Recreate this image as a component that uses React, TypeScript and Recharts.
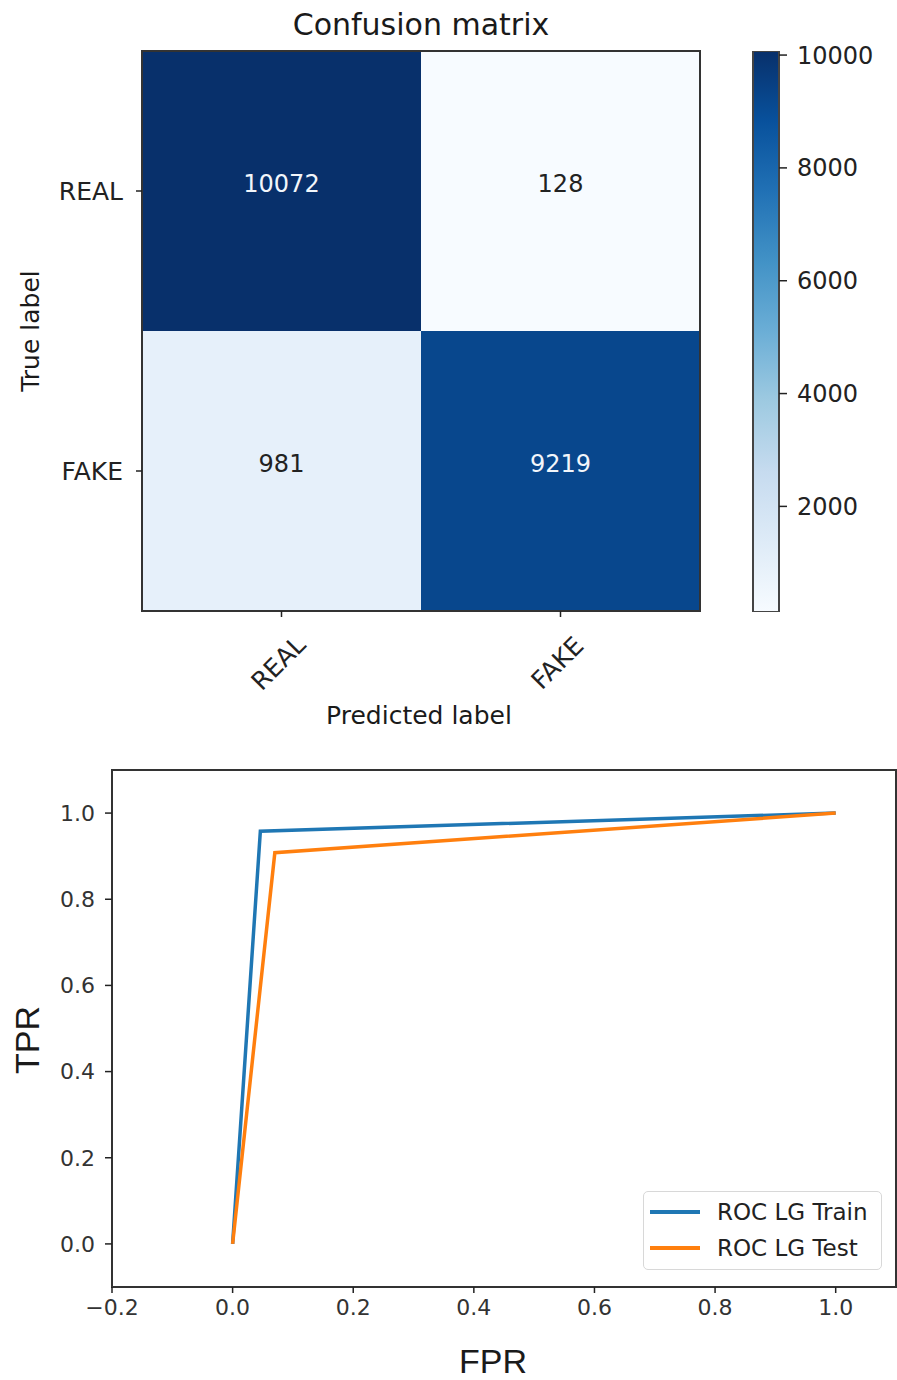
import React from 'react';
import {
  ScatterChart, Scatter, XAxis, YAxis, ReferenceArea, BarChart, Bar,
  LineChart, Line, Legend,
} from 'recharts';

// --- Confusion matrix data ---
const classLabels = ['REAL', 'FAKE'];
const matrixCounts = [
  [10072, 128],
  [981, 9219],
];
const colorbarTicks = [2000, 4000, 6000, 8000, 10000];

// --- ROC curve data ---
const seriesNames = ['ROC LG Train', 'ROC LG Test'];
const rocTrain = [
  { fpr: 0, tpr: 0 },
  { fpr: 0.046, tpr: 0.958 },
  { fpr: 1, tpr: 1 },
];
const rocTest = [
  { fpr: 0, tpr: 0 },
  { fpr: 0.07, tpr: 0.908 },
  { fpr: 1, tpr: 1 },
];
const fprTicks = [-0.2, 0, 0.2, 0.4, 0.6, 0.8, 1.0];
const tprTicks = [0, 0.2, 0.4, 0.6, 0.8, 1.0];

// matplotlib "Blues"
const BLUES = ['#f7fbff', '#deebf7', '#c6dbef', '#9ecae1', '#6baed6', '#4292c6', '#2171b5', '#08519c', '#08306b'];
const FONT = '"DejaVu Sans", sans-serif';
const INK = '#222';

const allCounts = matrixCounts.flat();
const vmin = Math.min(...allCounts);
const vmax = Math.max(...allCounts);

const hexToRgb = (h: string) => [1, 3, 5].map(i => parseInt(h.slice(i, i + 2), 16));

const bluesColor = (v: number) => {
  const t = Math.max(0, Math.min(1, (v - vmin) / (vmax - vmin))) * (BLUES.length - 1);
  const i = Math.min(Math.floor(t), BLUES.length - 2);
  const f = t - i;
  const a = hexToRgb(BLUES[i]);
  const b = hexToRgb(BLUES[i + 1]);
  const c = a.map((av, k) => Math.round(av + (b[k] - av) * f));
  return `rgb(${c[0]},${c[1]},${c[2]})`;
};

const cells = matrixCounts.flatMap((row, r) =>
  row.map((count, c) => ({ x: c, y: r, count }))
);

const colorbarData = [{ name: 'scale', range: [vmin, vmax] }];

const Caption = ({ x, y, size, rotate = 0, family = FONT, children }: any) => (
  <div
    style={{
      position: 'absolute', left: x, top: y, fontSize: size, fontFamily: family,
      color: '#1a1a1a', whiteSpace: 'nowrap', lineHeight: 1,
      transform: `translate(-50%, -50%) rotate(${rotate}deg)`,
    }}
  >
    {children}
  </div>
);

const RotatedTick = ({ x, y, payload }: any) => (
  <g transform={`translate(${x - 3},${y + 44}) rotate(-45)`}>
    <text textAnchor="middle" dominantBaseline="central" fontSize={25} fill={INK} fontFamily={FONT}>
      {classLabels[payload.value]}
    </text>
  </g>
);

const CountLabel = (props: any) => {
  const { cx, cy, payload } = props;
  const dark = payload.count > vmax / 2;
  return (
    <text x={cx} y={cy - 7} textAnchor="middle" dominantBaseline="central"
      fontSize={24} fontFamily={FONT} fill={dark ? '#f2f6fb' : INK}>
      {payload.count}
    </text>
  );
};

// keep the legend in plotting order
const RocLegend = ({ payload }: any) => {
  const items = [...(payload || [])].sort(
    (a: any, b: any) => seriesNames.indexOf(a.value) - seriesNames.indexOf(b.value)
  );
  return (
    <div style={{
      border: '1.5px solid #d8d8d8', borderRadius: 5, background: '#fff',
      padding: '2px 8px 4px 6px', boxSizing: 'border-box', width: 239, height: 79,
    }}>
      {items.map((entry: any) => (
        <div key={entry.value} style={{ display: 'flex', alignItems: 'center', height: 36 }}>
          <span style={{ width: 50, height: 3.5, background: entry.color, marginRight: 17, display: 'inline-block' }} />
          <span style={{ fontSize: 23, color: INK, fontFamily: FONT }}>{entry.value}</span>
        </div>
      ))}
    </div>
  );
};

export default function App() {
  return (
    <div style={{ position: 'absolute', left: 0, top: 0, width: 897, height: 1380, background: '#fff' }}>
      {/* Confusion matrix */}
      <div style={{ position: 'absolute', left: 0, top: 0 }}>
        <ScatterChart width={720} height={740} margin={{ top: 51, right: 20, bottom: 0, left: 0 }}>
          <XAxis type="number" dataKey="x" domain={[-0.5, 1.5]} ticks={[0, 1]} interval={0}
            allowDataOverflow axisLine={false} tickLine={{ stroke: '#222', strokeWidth: 1.5 }}
            tickSize={6} tickMargin={2} height={129} tick={<RotatedTick />} />
          <YAxis type="number" dataKey="y" domain={[-0.5, 1.5]} ticks={[0, 1]} interval={0} reversed
            allowDataOverflow axisLine={false} tickLine={{ stroke: '#222', strokeWidth: 1.5 }}
            tickSize={6} tickMargin={13} width={142}
            tickFormatter={(v: number) => classLabels[v]}
            tick={{ fontSize: 25, fill: INK, fontFamily: FONT }} />
          {cells.map(c => (
            <ReferenceArea key={`${c.x}-${c.y}`} x1={c.x - 0.5} x2={c.x + 0.5} y1={c.y - 0.5} y2={c.y + 0.5}
              fill={bluesColor(c.count)} fillOpacity={1} stroke="none" />
          ))}
          <ReferenceArea x1={-0.5} x2={1.5} y1={-0.5} y2={1.5} fill="none" stroke="#333" strokeWidth={2} />
          <Scatter data={cells} shape={<CountLabel />} isAnimationActive={false} />
        </ScatterChart>
      </div>

      {/* Colorbar */}
      <div style={{ position: 'absolute', left: 740, top: 0 }}>
        <BarChart width={157} height={740} data={colorbarData} barCategoryGap={0}
          margin={{ top: 51, right: 0, bottom: 128, left: 13 }}>
          <defs>
            <linearGradient id="bluesGrad" x1="0" y1="1" x2="0" y2="0">
              {BLUES.map((c, i) => (
                <stop key={c} offset={i / (BLUES.length - 1)} stopColor={c} />
              ))}
            </linearGradient>
          </defs>
          <XAxis dataKey="name" hide />
          <YAxis orientation="right" type="number" domain={[vmin, vmax]} ticks={colorbarTicks}
            allowDataOverflow width={118} axisLine={false}
            tickLine={{ stroke: '#222', strokeWidth: 1.5 }} tickSize={8} tickMargin={10}
            tick={{ fontSize: 24, fill: INK, fontFamily: FONT, textAnchor: 'start' }} />
          <Bar dataKey="range" fill="url(#bluesGrad)" stroke="#444" strokeWidth={2} isAnimationActive={false} />
        </BarChart>
      </div>

      <Caption x={421} y={25} size={30}>Confusion matrix</Caption>
      <Caption x={419} y={715} size={25}>Predicted label</Caption>
      <Caption x={30} y={331} size={25} rotate={-90}>True label</Caption>

      {/* ROC curves */}
      <div style={{ position: 'absolute', left: 0, top: 740 }}>
        <LineChart width={897} height={640} margin={{ top: 30, right: 1, bottom: 0, left: 0 }}>
          <XAxis type="number" dataKey="fpr" domain={[-0.2, 1.1]} ticks={fprTicks} interval={0}
            allowDataOverflow height={93} axisLine={false}
            tickLine={{ stroke: '#222', strokeWidth: 1.5 }} tickSize={6} tickMargin={6}
            tickFormatter={(v: number) => v.toFixed(1).replace('-', '\u2212')}
            tick={{ fontSize: 22, fill: '#333', fontFamily: FONT }} />
          <YAxis type="number" domain={[-0.1, 1.1]} ticks={tprTicks} interval={0}
            allowDataOverflow width={112} axisLine={false}
            tickLine={{ stroke: '#222', strokeWidth: 1.5 }} tickSize={7} tickMargin={10}
            tickFormatter={(v: number) => v.toFixed(1)}
            tick={{ fontSize: 22, fill: '#333', fontFamily: FONT }} />
          <ReferenceArea x1={-0.2} x2={1.1} y1={-0.1} y2={1.1} fill="none" stroke="#333" strokeWidth={2} />
          <Line data={rocTrain} dataKey="tpr" name={seriesNames[0]} stroke="#1f77b4" strokeWidth={3.5}
            dot={false} isAnimationActive={false} />
          <Line data={rocTest} dataKey="tpr" name={seriesNames[1]} stroke="#ff7f0e" strokeWidth={3.5}
            dot={false} isAnimationActive={false} />
          <Legend layout="vertical" align="center" verticalAlign="middle" content={<RocLegend />}
            wrapperStyle={{ left: 643, top: 451, width: 239, height: 79 }} />
        </LineChart>
      </div>

      <Caption x={27} y={1040} size={34} rotate={-90} family='"Liberation Sans", Arial, sans-serif'>TPR</Caption>
      <Caption x={493} y={1361} size={34} family='"Liberation Sans", Arial, sans-serif'>FPR</Caption>
    </div>
  );
}
